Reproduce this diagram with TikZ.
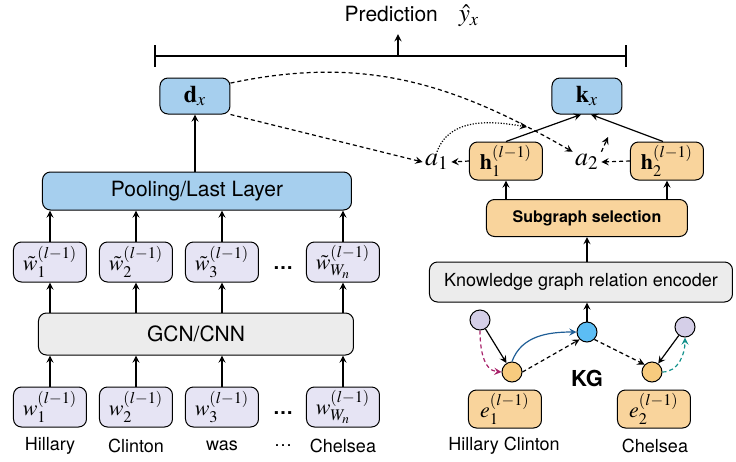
\documentclass[tikz,border=0pt]{standalone}
\usepackage{mathptmx}
\usepackage[no-math]{fontspec}
\setmainfont{TeX Gyre Heros}
\usetikzlibrary{positioning}
\definecolor{poolblue}{HTML}{A6CFEE}
\definecolor{wordlav}{HTML}{E6E4F4}
\definecolor{encgray}{HTML}{ECECEC}
\definecolor{kgorange}{HTML}{F9D49C}
\definecolor{dotpurple}{HTML}{D5CFE8}
\definecolor{dotblue}{HTML}{5CBDF4}
\definecolor{dotorange}{HTML}{F8CB7E}
\definecolor{arrmagenta}{HTML}{A8226A}
\definecolor{arrteal}{HTML}{14928C}
\definecolor{arrblue}{HTML}{1F5E96}
\begin{document}
\begin{tikzpicture}[x=0.5pt,y=-0.5pt,>=stealth,line width=0.6pt,
    rbox/.style={draw,rounded corners=4pt,inner sep=0pt,line width=0.5pt},
    vecbox/.style={rbox,minimum width=36.5pt,minimum height=20pt,font=\fontsize{11}{13}\selectfont},
    wide/.style={font=\fontsize{10.5}{12}\selectfont},
    lbl/.style={font=\fontsize{9}{11}\selectfont},
    kgdot/.style={circle,draw,line width=0.5pt,minimum size=10pt,inner sep=0pt},
    dsh/.style={dash pattern=on 2pt off 1.5pt},
    dtt/.style={dash pattern=on 0.6pt off 0.8pt}]
    \useasboundingbox (0,0) rectangle (736,462);
    % top: prediction and merge bar
    \node[wide] at (412,16)(pred){Prediction\quad{\fontsize{12.5}{14}\selectfont$\hat{y}_x$}};
    \draw (155,56) -- (626,56);
    \draw (155,45) -- (155,67);
    \draw (626,45) -- (626,67);
    \coordinate (bar) at (398,56);
    \path[draw,->] (bar) -- (bar |- pred.south);
    \node[rbox,fill=poolblue,minimum width=35pt,minimum height=18pt,font=\fontsize{12}{14}\selectfont] at (195,96)(dx){$\mathbf{d}_x$};
    \node[rbox,fill=poolblue,minimum width=35pt,minimum height=18pt,font=\fontsize{12}{14}\selectfont] at (587,96)(kx){$\mathbf{k}_x$};
    % text side
    \node[rbox,fill=poolblue,minimum width=154.5pt,minimum height=19pt,wide] at (197,191)(pool){Pooling/Last Layer};
    \node[rbox,fill=encgray,minimum width=157.5pt,minimum height=21pt,wide] at (196,334)(gcn){GCN/CNN};
    \path[draw,->] (pool.north -| dx.south) -- (dx.south);
    \foreach \x/\i/\s in {50/1/1,136/2/2,222/3/3,343/4/W_n}{
        \node[vecbox,fill=wordlav] at (\x,262)(wt\i){$\tilde{w}_{\s}^{(l-1)}$};
        \node[vecbox,fill=wordlav] at (\x,407)(w\i){$w_{\s}^{(l-1)}$};
        \path[draw,->] (wt\i.north) -- (wt\i.north |- pool.south);
        \path[draw,->] (wt\i.south |- gcn.north) -- (wt\i.south);
        \path[draw,->] (w\i.north) -- (w\i.north |- gcn.south);
    }
    \node[font=\bfseries] at (283,268)(dotsA){\dots};
    \node[font=\bfseries] at (283,413)(dotsB){\dots};
    \foreach \x/\t in {50/Hillary,136/Clinton,222/was,283/{\dots},343/Chelsea}{
        \node[lbl] at (\x,446)(word\x){\t};
    }
    % knowledge side
    \node[rbox,fill=kgorange,minimum width=36.5pt,minimum height=19pt,font=\fontsize{11}{13}\selectfont] at (506,161)(h1){$\mathbf{h}_1^{(l-1)}$};
    \node[rbox,fill=kgorange,minimum width=36.5pt,minimum height=19pt,font=\fontsize{11}{13}\selectfont] at (667,161)(h2){$\mathbf{h}_2^{(l-1)}$};
    \node[font=\fontsize{13}{15}\selectfont,inner sep=1pt] at (437,162)(a1){$a_1$};
    \node[font=\fontsize{13}{15}\selectfont,inner sep=1pt] at (587,162)(a2){$a_2$};
    \node[rbox,fill=kgorange,minimum width=100.5pt,minimum height=18.5pt,font=\fontsize{8}{10}\selectfont\bfseries] at (587,218)(sub){Subgraph selection};
    \node[rbox,fill=encgray,minimum width=151.5pt,minimum height=20pt,lbl] at (581,282)(kge){Knowledge graph relation encoder};
    \node[kgdot,fill=dotpurple] at (480,320)(kgA){};
    \node[kgdot,fill=dotorange] at (512,372)(ent1){};
    \node[kgdot,fill=dotblue] at (587,332)(hub){};
    \node[kgdot,fill=dotorange] at (652,372)(ent2){};
    \node[kgdot,fill=dotpurple] at (685,327)(kgB){};
    \node[font=\fontsize{11}{13}\selectfont\bfseries] at (587,378)(kg){KG};
    \node[vecbox,fill=kgorange,minimum height=19pt] at (505,409)(e1){$e_1^{(l-1)}$};
    \node[vecbox,fill=kgorange,minimum height=19pt] at (654,409)(e2){$e_2^{(l-1)}$};
    \node[lbl] at (504,446)(name1){Hillary Clinton};
    \node[lbl] at (655,446)(name2){Chelsea};
    % arrows up the knowledge side
    \path[draw,->] (h1.north) -- ([xshift=-3pt]kx.south);
    \path[draw,->] ([xshift=-2pt]h2.north) -- ([xshift=2pt]kx.south);
    \path[draw,->] (h1.south |- sub.north) -- (h1.south);
    \path[draw,->] (h2.south |- sub.north) -- (h2.south);
    \path[draw,->] (kge.north -| sub.south) -- (sub.south);
    \path[draw,->] (hub.north) -- (hub.north |- kge.south);
    % attention
    \coordinate (att1) at (527,127);
    \coordinate (att2) at (608,137);
    \path[draw,dsh,->] (dx.20) to[out=12,in=150] (a2.north west);
    \path[draw,dsh,->] (dx.south east) -- (a1.west);
    \path[draw,dsh,->] (h1.west) -- (a1.east);
    \path[draw,dsh,->] (h2.west) -- (a2.east);
    \path[draw,dtt,->] (a1.north) to[out=70,in=170] (att1);
    \path[draw,dsh,->] (a2.north east) -- (att2);
    % KG edges
    \path[draw,->] (kgA) -- (ent1);
    \path[draw,->] (kgB) -- (ent2);
    \path[draw,dsh,->,arrmagenta] (kgA.south) to[out=-90,in=175] (ent1.west);
    \path[draw,->,arrblue] (ent1.north) to[out=70,in=180] (hub.west);
    \path[draw,dsh,->] (ent1.east) -- (hub.south west);
    \path[draw,dsh,->] (hub.south east) -- (ent2.north west);
    \path[draw,dsh,->,arrteal] (ent2.east) to[out=0,in=-90] (kgB.south);
\end{tikzpicture}
\end{document}
